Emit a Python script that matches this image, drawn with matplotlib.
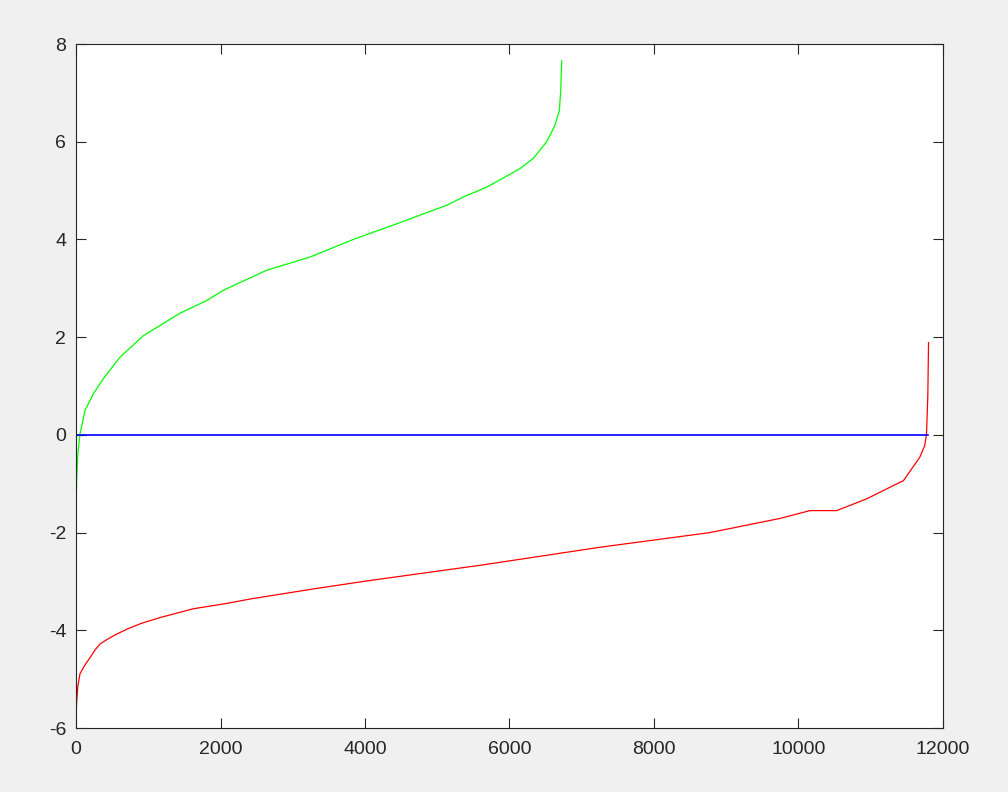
import numpy as np
import matplotlib.pyplot as plt

# green curve samples (index, value)
gx = [0, 10, 25, 55, 125, 240, 378, 609, 932, 1163, 1439, 1809, 2039, 2639, 3239, 3838,
      4438, 5131, 5361, 5684, 5868, 6145, 6330, 6514, 6630, 6690, 6709, 6723]
gy = [-1.6, -0.9, -0.4, 0.02, 0.5, 0.84, 1.15, 1.59, 2.03, 2.24, 2.49, 2.75, 2.96, 3.37, 3.64, 4.0,
      4.32, 4.70, 4.87, 5.07, 5.22, 5.45, 5.66, 6.0, 6.34, 6.64, 7.05, 7.66]

# red curve samples
rx = [0, 10, 25, 55, 120, 194, 260, 332, 450, 560, 700, 900, 1163, 1620, 2085, 2408, 3300,
      4023, 5637, 7253, 8775, 9744, 10159, 10528, 10943, 11405, 11451, 11678, 11747, 11772,
      11790, 11800]
ry = [-5.79, -5.45, -5.15, -4.89, -4.72, -4.56, -4.41, -4.28, -4.17, -4.08, -3.98, -3.86,
      -3.74, -3.56, -3.45, -3.36, -3.15, -2.99, -2.66, -2.30, -2.0, -1.71, -1.55, -1.55,
      -1.31, -0.97, -0.94, -0.46, -0.22, 0.02, 0.8, 1.89]

# blue zero line
bx = [0, 11790]
by = [0, 0]

plt.rcParams['font.family'] = ['Liberation Sans', 'DejaVu Sans']
plt.rcParams['axes.unicode_minus'] = False

fig = plt.figure(figsize=(10.08, 7.92), dpi=100, facecolor='#f0f0f0')
ax = fig.add_axes([0.0754, 0.0808, 0.8601, 0.8636])

ax.plot(gx, gy, color='#00ff00', linewidth=0.9)
ax.plot(rx, ry, color='#ff0000', linewidth=0.9)
ax.plot(bx, by, color='#0000ff', linewidth=1.2)

ax.set_xlim(0, 12000)
ax.set_ylim(-6, 8)
ax.set_xticks(range(0, 12001, 2000))
ax.set_yticks(range(-6, 9, 2))
ax.tick_params(direction='in', top=True, right=True, length=7, width=0.8,
               labelsize=14, colors='#262626')
ax.tick_params(axis='x', pad=9)
ax.tick_params(axis='y', pad=7)
for s in ax.spines.values():
    s.set_color('#262626')
    s.set_linewidth(0.8)

plt.savefig('out.png', dpi=100, facecolor=fig.get_facecolor())
